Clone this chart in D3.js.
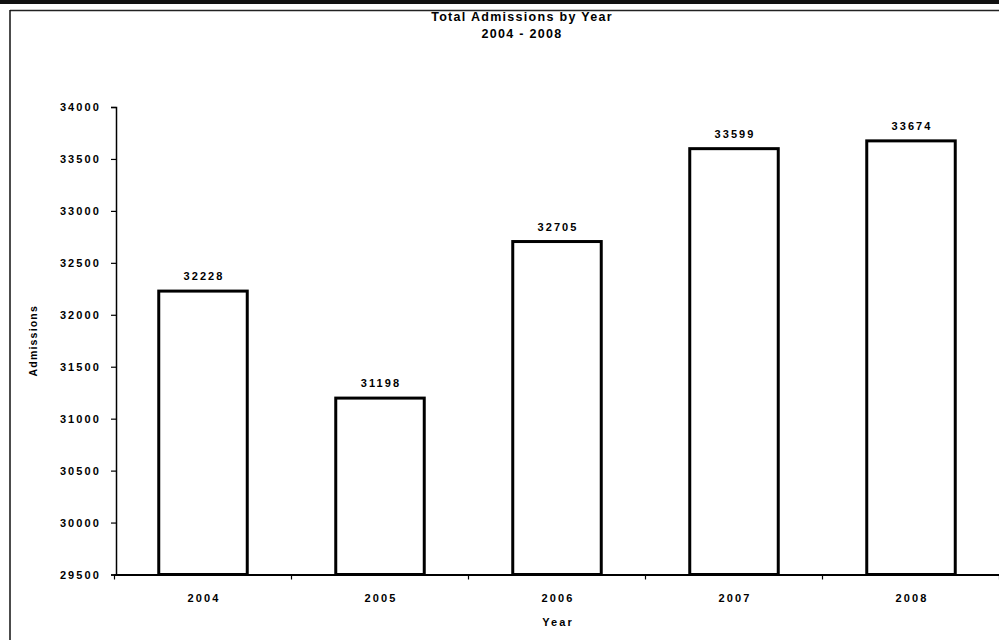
<!DOCTYPE html>
<html>
<head>
<meta charset="utf-8">
<script src="https://cdn.jsdelivr.net/npm/d3@7"></script>
<style>
  html, body { margin: 0; padding: 0; background: #fff; }
  svg { display: block; }
  text { font-family: "Liberation Sans", Arial, sans-serif; font-weight: bold; fill: #000; }
</style>
</head>
<body>
<svg id="chart" width="999" height="640"></svg>
<script>
// Yearly admission totals
const years = ["2004", "2005", "2006", "2007", "2008"];
const admissions = [32228, 31198, 32705, 33599, 33674];
const yTicks = [29500, 30000, 30500, 31000, 31500, 32000, 32500, 33000, 33500, 34000];
const titleLines = ["Total Admissions by Year", "2004 - 2008"];
const xTitle = "Year";
const yTitle = "Admissions";

const svg = d3.select("#chart");

// Page frame: heavy rule on top, thin rule under it, left edge line
svg.append("rect").attr("x", 0).attr("y", 0).attr("width", 999).attr("height", 4).attr("fill", "#111");
svg.append("line").attr("x1", 10).attr("x2", 999).attr("y1", 10.5).attr("y2", 10.5)
  .attr("stroke", "#222").attr("stroke-width", 1.5);
svg.append("line").attr("x1", 10).attr("x2", 10).attr("y1", 10).attr("y2", 640)
  .attr("stroke", "#111").attr("stroke-width", 1.5);

const plot = { left: 114.5, right: 999.5, top: 107, bottom: 574.5 };

const x = d3.scaleBand()
  .domain(years)
  .range([plot.left, plot.right])
  .paddingInner(0.5)
  .paddingOuter(0.25);

const y = d3.scaleLinear()
  .domain([29500, 34000])
  .range([plot.bottom, plot.top]);

const labelFont = sel => sel
  .style("font-family", "'Liberation Sans', Arial, sans-serif")
  .style("font-weight", "bold")
  .style("font-size", "11px")
  .style("letter-spacing", "2.1px");

// Title
svg.append("text")
  .attr("x", 522).attr("y", 21)
  .attr("text-anchor", "middle")
  .style("font-size", "12.5px").style("letter-spacing", "1.3px")
  .text(titleLines[0]);
svg.append("text")
  .attr("x", 522).attr("y", 38)
  .attr("text-anchor", "middle")
  .style("font-size", "12.5px").style("letter-spacing", "1.3px")
  .text(titleLines[1]);

// Y axis
const yAxis = svg.append("g")
  .attr("transform", `translate(${plot.left + 1.5},0)`)
  .call(d3.axisLeft(y).tickValues(yTicks).tickSize(5).tickPadding(10).tickFormat(d3.format("d")));
yAxis.select(".domain").attr("stroke", "#000").attr("stroke-width", 1.5);
yAxis.selectAll(".tick line").attr("stroke", "#000").attr("stroke-width", 1.2);
yAxis.selectAll(".tick text").call(labelFont).attr("fill", "#000");

// X axis: baseline with ticks on category boundaries
const boundaries = d3.range(years.length + 1).map(i => plot.left + i * x.step());
svg.append("line")
  .attr("x1", plot.left).attr("x2", plot.right)
  .attr("y1", y(29500) + 0.5).attr("y2", y(29500) + 0.5)
  .attr("stroke", "#000").attr("stroke-width", 1.8);
svg.append("g").selectAll("line")
  .data(boundaries)
  .join("line")
  .attr("x1", d => d).attr("x2", d => d)
  .attr("y1", y(29500)).attr("y2", y(29500) + 5)
  .attr("stroke", "#000").attr("stroke-width", 1.2);

// Category labels
svg.append("g").selectAll("text")
  .data(years)
  .join("text")
  .attr("x", d => x(d) + x.bandwidth() / 2 + 1)
  .attr("y", y(29500) + 27)
  .attr("text-anchor", "middle")
  .call(labelFont)
  .text(d => d);

// Bars
const data = years.map((yr, i) => ({ year: yr, value: admissions[i] }));
svg.append("g").selectAll("rect")
  .data(data)
  .join("rect")
  .attr("x", d => x(d.year))
  .attr("y", d => y(d.value))
  .attr("width", x.bandwidth())
  .attr("height", d => y(29500) - y(d.value))
  .attr("fill", "#fff")
  .attr("stroke", "#000")
  .attr("stroke-width", 3);

// Value labels
svg.append("g").selectAll("text")
  .data(data)
  .join("text")
  .attr("x", d => x(d.year) + x.bandwidth() / 2 + 1)
  .attr("y", d => y(d.value) - 11)
  .attr("text-anchor", "middle")
  .call(labelFont)
  .text(d => d.value);

// Axis titles
svg.append("text")
  .attr("x", plot.left + (plot.right - plot.left) / 2 + 1)
  .attr("y", 626)
  .attr("text-anchor", "middle")
  .call(labelFont)
  .text(xTitle);

svg.append("text")
  .attr("transform", `translate(37,${(plot.top + plot.bottom) / 2}) rotate(-90)`)
  .attr("text-anchor", "middle")
  .style("font-size", "10.5px").style("letter-spacing", "1.2px")
  .text(yTitle);
</script>
</body>
</html>
